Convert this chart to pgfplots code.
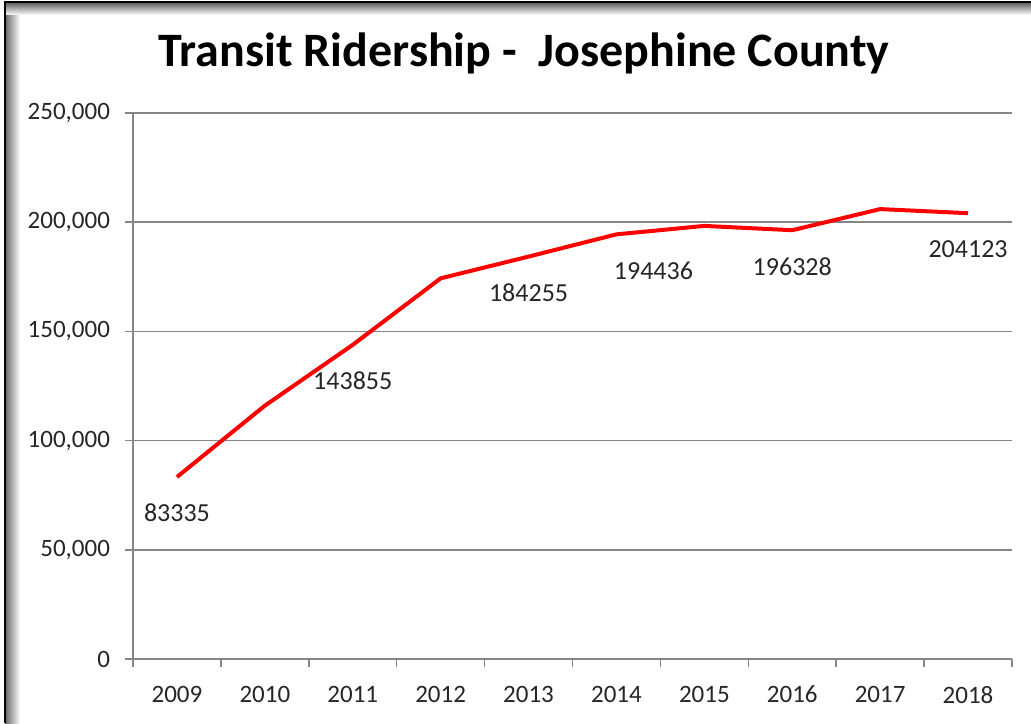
\documentclass[border=0pt]{standalone}
\usepackage{fontspec}
\setmainfont{Carlito}
\usepackage{pgfplots}
\pgfplotsset{compat=1.18}
\definecolor{gridgray}{HTML}{868686}
\definecolor{txt}{HTML}{262626}
\begin{document}
\begin{tikzpicture}
\useasboundingbox (0pt,0pt) rectangle (515.5pt,361.5pt);
\fill[white] (0pt,0pt) rectangle (515.5pt,361.5pt);
% frame shadow, left and top
\shade[left color=black!60, right color=white] (2.5pt,0pt) rectangle (10pt,360pt);
\shade[top color=black!60, bottom color=white] (2.5pt,354pt) rectangle (515.5pt,360pt);
\draw[black, line width=1.2pt] (2.5pt,0pt) -- (2.5pt,360.5pt) -- (515.5pt,360.5pt);
\node[anchor=base, font=\fontsize{24}{28}\selectfont\bfseries, text=black]
  at (262pt,328pt) {Transit Ridership -\ \ Josephine County};
\begin{axis}[
  at={(66.5pt,32pt)}, anchor=south west,
  scale only axis, width=439.5pt, height=273pt,
  xmin=-0.5, xmax=9.5, ymin=0, ymax=250000,
  axis x line*=bottom, axis y line*=left,
  axis line style={gridgray, line width=0.75pt},
  xtick={0,...,9},
  xticklabels={2009,2010,2011,2012,2013,2014,2015,2016,2017,2018},
  major x tick style={draw=none},
  minor xtick={-0.5,0.5,1.5,2.5,3.5,4.5,5.5,6.5,7.5,8.5,9.5},
  minor tick length=4pt,
  ytick={0,50000,100000,150000,200000,250000},
  yticklabels={0,{50,000},{100,000},{150,000},{200,000},{250,000}},
  scaled y ticks=false,
  ymajorgrids, grid style={gridgray, line width=0.75pt},
  tick align=outside, major tick length=4pt,
  tick style={gridgray, line width=0.75pt},
  ticklabel style={font=\fontsize{12.5}{15}\selectfont, text=txt},
  yticklabel style={xshift=-4pt},
  xticklabel style={yshift=-6pt},
  clip=false,
]
\addplot[red, line width=2pt,
  nodes near coords, point meta=explicit symbolic,
  every node near coord/.append style={anchor=center, yshift=-18pt,
    font=\fontsize{13}{15}\selectfont, text=txt}]
coordinates {
  (0,83335)  [83335]
  (1,116000) []
  (2,143855) [143855]
  (3,174300) []
  (4,184255) [184255]
  (5,194436) []
  (6,198300) []
  (7,196328) [196328]
  (8,206000) []
  (9,204123) [204123]
};
\addplot[draw=none, nodes near coords, point meta=explicit symbolic,
  every node near coord/.append style={anchor=center, yshift=-18pt, xshift=18.5pt,
    font=\fontsize{13}{15}\selectfont, text=txt}]
coordinates {(5,194436) [194436]};
\end{axis}
\end{tikzpicture}
\end{document}
